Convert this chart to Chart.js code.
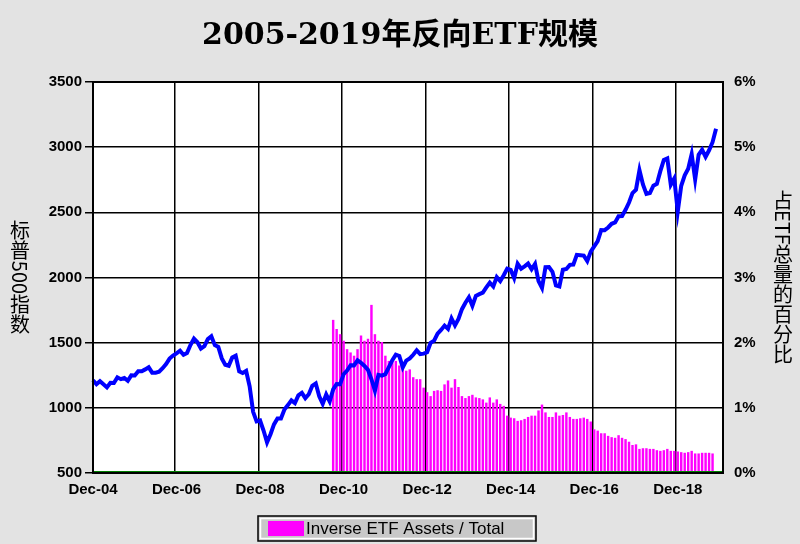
<!DOCTYPE html><html><head><meta charset="utf-8">
<script src="https://cdn.jsdelivr.net/npm/chart.js@4"></script>
<style>body{margin:0;background:#e3e3e3}#w{width:800px;height:544px}</style></head><body><div id="w"><canvas id="c"></canvas></div>
<script>
const spx=[1212,
1181,1204,1181,1157,1192,1191,1234,1220,1229,1207,1249,1248,
1280,1281,1295,1311,1270,1270,1277,1304,1336,1378,1401,1418,
1438,1407,1421,1482,1531,1503,1455,1474,1527,1549,1481,1468,
1379,1331,1323,1386,1400,1280,1267,1283,1165,969,896,903,
826,735,798,873,919,919,987,1021,1057,1036,1096,1115,
1074,1104,1169,1187,1089,1031,1102,1049,1141,1183,1181,1258,
1286,1327,1326,1364,1345,1321,1292,1219,1131,1253,1247,1258,
1312,1366,1408,1398,1310,1362,1379,1407,1441,1412,1416,1426,
1498,1515,1569,1598,1631,1606,1686,1633,1682,1757,1806,1848,
1783,1859,1872,1884,1924,1960,1931,2003,1972,2018,2068,2059,
1995,2105,2068,2086,2107,2063,2104,1972,1920,2079,2080,2044,
1940,1932,2060,2065,2097,2099,2174,2171,2168,2126,2199,2239,
2279,2364,2363,2384,2412,2423,2470,2472,2519,2575,2648,2674,
2824,2714,2641,2648,2705,2718,2816,2902,2914,2712,2760,2507,
2704,2784,2834,2946,2752,2942,2980,2926,2976,3038,3141];
const inversePct=[2.35,2.21,2.13,2.03,1.90,1.85,1.80,1.90,2.11,2.03,2.06,2.58,2.13,2.03,2.01,1.80,1.72,1.70,1.72,1.65,1.62,1.57,1.59,1.47,1.44,1.44,1.31,1.24,1.18,1.26,1.27,1.26,1.36,1.42,1.31,1.44,1.32,1.18,1.15,1.18,1.20,1.16,1.15,1.13,1.08,1.16,1.08,1.13,1.06,1.03,0.88,0.85,0.84,0.80,0.81,0.83,0.86,0.88,0.88,0.96,1.05,0.93,0.86,0.86,0.93,0.88,0.89,0.93,0.86,0.83,0.83,0.84,0.85,0.83,0.79,0.67,0.65,0.61,0.61,0.57,0.55,0.54,0.58,0.54,0.52,0.48,0.43,0.44,0.37,0.38,0.38,0.37,0.37,0.35,0.34,0.35,0.37,0.34,0.34,0.33,0.32,0.31,0.32,0.34,0.30,0.30,0.31,0.31,0.31,0.30];
const barStart=69;
const totalMonths=182;
const leftTitle='标普500指数', rightTitle='占ETF总量的百分比', legendText='Inverse ETF Assets / Total';
const months=['Jan','Feb','Mar','Apr','May','Jun','Jul','Aug','Sep','Oct','Nov','Dec'];
const labels=[];for(let i=0;i<totalMonths;i++){const m=(11+i)%12,y=2004+Math.floor((11+i)/12);labels.push(months[m]+'-'+String(y).slice(2));}
const bars=labels.map((_,i)=>{const k=i-barStart;return k>=0&&k<inversePct.length?inversePct[k]:null;});
function vtext(ctx,str,x,yc,size){ctx.font=size+'px "Noto Sans CJK SC"';
 const runs=[];for(const ch of str){const cjk=/[\u3000-\u9fff]/.test(ch);if(runs.length&&runs[runs.length-1].cjk===cjk&&!cjk)runs[runs.length-1].t+=ch;else runs.push({t:ch,cjk});}
 let total=0;runs.forEach(r=>{r.h=r.cjk?size:ctx.measureText(r.t).width;total+=r.h;});
 let y=yc-total/2;ctx.textAlign='center';ctx.textBaseline='middle';
 runs.forEach(r=>{if(r.cjk){ctx.fillText(r.t,x,y+r.h/2);}else{ctx.save();ctx.translate(x,y+r.h/2);ctx.rotate(Math.PI/2);ctx.fillText(r.t,0,0);ctx.restore();}y+=r.h;});}
const bg={id:'bg',beforeDraw(c){const {ctx,chartArea:a}=c;ctx.save();ctx.fillStyle='#fff';ctx.fillRect(a.left,a.top,a.right-a.left,a.bottom-a.top);ctx.restore();},
afterDraw(c){const {ctx,chartArea:a}=c;ctx.save();ctx.strokeStyle='#008000';ctx.lineWidth=2;ctx.beginPath();ctx.moveTo(a.left,a.bottom-1);ctx.lineTo(a.right,a.bottom-1);ctx.stroke();
ctx.strokeStyle='#000';ctx.lineWidth=2;ctx.strokeRect(a.left,a.top,a.right-a.left,a.bottom-a.top);
ctx.fillStyle='#c8c8c8';ctx.fillRect(258,516,278,25);
ctx.lineWidth=1.5;ctx.strokeRect(258,516,278,25);ctx.strokeStyle='#fff';ctx.strokeRect(260.5,518.5,273,20);
ctx.fillStyle='#ff00ff';ctx.fillRect(268,521,36,15);
ctx.fillStyle='#000';ctx.font='17px "Liberation Sans Narrow","Liberation Sans"';ctx.textAlign='left';ctx.textBaseline='middle';ctx.fillText(legendText,306,529);
const yc=(a.top+a.bottom)/2;vtext(ctx,leftTitle,20,yc,20);vtext(ctx,rightTitle,783,yc,20);ctx.restore();}};
new Chart(document.getElementById('c'),{data:{labels,datasets:[
{type:'line',label:'S&P 500',data:spx,borderColor:'#0000ff',borderWidth:4,pointRadius:0,yAxisID:'y',order:0,tension:0},
{type:'bar',label:legendText,data:bars,backgroundColor:'#ff00ff',yAxisID:'y1',barPercentage:0.7,categoryPercentage:1,order:1}]},
options:{animation:false,responsive:true,maintainAspectRatio:false,layout:{padding:{top:0,bottom:37}},
plugins:{title:{display:true,text:'2005-2019年反向ETF规模',font:{size:30,weight:'bold',family:'"DejaVu Serif","Noto Sans CJK SC"'},color:'#000',padding:{top:18,bottom:28}},
legend:{display:false},tooltip:{enabled:false}},
scales:{x:{offset:false,grid:{color:c=>(c.index%24===0?'#000':'transparent'),lineWidth:1.5,drawTicks:false},border:{display:false},
ticks:{autoSkip:false,maxRotation:0,color:'#000',font:{size:15,weight:'bold',family:'Liberation Sans Narrow, Liberation Sans'},padding:8,callback:(v,i)=>i%24===0?labels[i]:''}},
y:{position:'left',min:500,max:3500,afterFit:s=>{s.width=93},ticks:{stepSize:500,callback:v=>String(v),color:'#000',font:{size:15,weight:'bold',family:'Liberation Sans Narrow, Liberation Sans'}},grid:{color:'#000',lineWidth:1.5},border:{display:false}},
y1:{position:'right',min:0,max:6,afterFit:s=>{s.width=77},ticks:{stepSize:1,callback:v=>v+'%',color:'#000',font:{size:15,weight:'bold',family:'Liberation Sans Narrow, Liberation Sans'}},grid:{display:false},border:{display:false}}}},
plugins:[bg]});
</script></body></html>
